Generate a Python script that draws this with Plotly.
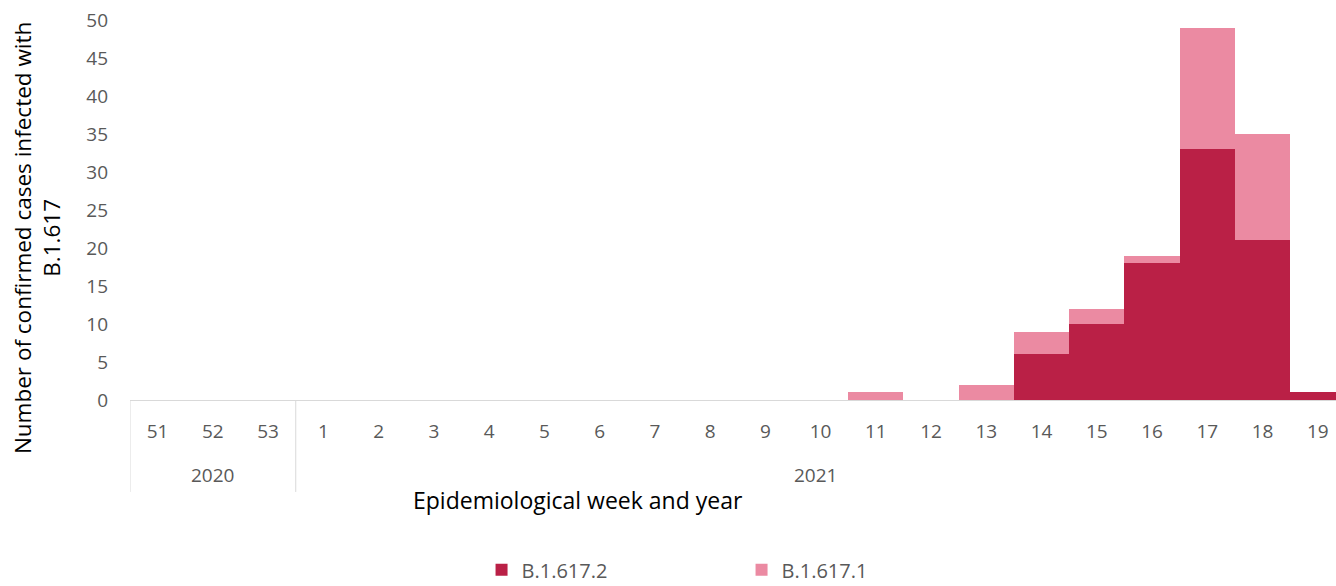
import plotly.graph_objects as go

# Epidemiological weeks (late 2020 into 2021)
weeks = ["51", "52", "53", "1", "2", "3", "4", "5", "6", "7", "8", "9", "10",
         "11", "12", "13", "14", "15", "16", "17", "18", "19"]
years = ["2020"] * 3 + ["2021"] * 19
b16172 = [0, 0, 0, 0, 0, 0, 0, 0, 0, 0, 0, 0, 0, 0, 0, 0, 6, 10, 18, 33, 21, 1]
b16171 = [0, 0, 0, 0, 0, 0, 0, 0, 0, 0, 0, 0, 0, 1, 0, 2, 3, 2, 1, 16, 14, 0]
y_ticks = [0, 5, 10, 15, 20, 25, 30, 35, 40, 45, 50]

idx = list(range(len(weeks)))
FONT = "Open Sans"
GRAY = "#595959"
X_MAX = 21.33

fig = go.Figure()
fig.add_trace(go.Bar(x=idx, y=b16172, name="B.1.617.2", width=1.0,
                     marker=dict(color="#BA2046", line=dict(width=0))))
fig.add_trace(go.Bar(x=idx, y=b16171, name="B.1.617.1", width=1.0,
                     marker=dict(color="#EB8AA2", line=dict(width=0))))

fig.update_layout(
    width=1336, height=586,
    margin=dict(l=130, r=0, t=20, b=186, autoexpand=False),
    barmode="stack", bargap=0,
    plot_bgcolor="white", paper_bgcolor="white",
    font=dict(family=FONT, size=19, color=GRAY),
    showlegend=True,
    legend=dict(orientation="h", traceorder="normal",
                x=0.2915, xanchor="left", y=-0.447, yanchor="middle",
                entrywidth=215, entrywidthmode="pixels",
                font=dict(family=FONT, size=20, color=GRAY)),
)

fig.update_xaxes(
    range=[-0.5, X_MAX], tickmode="array", tickvals=idx, ticktext=weeks,
    ticks="", ticklabelstandoff=14, showgrid=False, zeroline=False,
    showline=True, linecolor="#D9D9D9", linewidth=1,
    tickfont=dict(family=FONT, size=19, color=GRAY), fixedrange=True,
)
fig.update_yaxes(
    range=[0, 50], tickmode="array", tickvals=y_ticks,
    showgrid=False, zeroline=False, showline=False, ticks="",
    ticklabelstandoff=21,
    tickfont=dict(family=FONT, size=19, color=GRAY), fixedrange=True,
)

# Year group labels under the week labels
groups = {}
for i, yr in enumerate(years):
    groups.setdefault(yr, []).append(i)
for yr, members in groups.items():
    lo, hi = members[0] - 0.5, min(members[-1] + 0.5, X_MAX)
    fig.add_annotation(x=(lo + hi) / 2, y=0, xref="x", yref="paper",
                       yshift=-90, text=yr, showarrow=False,
                       font=dict(family=FONT, size=19, color=GRAY))

# Group dividers
for pos in [-0.5, 2.5]:
    fig.add_shape(type="line", x0=pos, x1=pos, xref="x", y0=0, y1=-0.242,
                  yref="paper", line=dict(color="#D9D9D9", width=1))

# Axis titles
fig.add_annotation(x=0.3715, y=-0.263, xref="paper", yref="paper",
                   xanchor="center", yanchor="middle",
                   text="Epidemiological week and year", showarrow=False,
                   font=dict(family=FONT, size=23, color="black"))
fig.add_annotation(text="Number of confirmed cases infected with<br>B.1.617",
                   textangle=-90, xref="paper", yref="paper", x=0, y=0.426,
                   xanchor="center", yanchor="middle", xshift=-93, showarrow=False,
                   font=dict(family=FONT, size=22.5, color="black"))

fig.write_html("out.html", config={"displayModeBar": False})
